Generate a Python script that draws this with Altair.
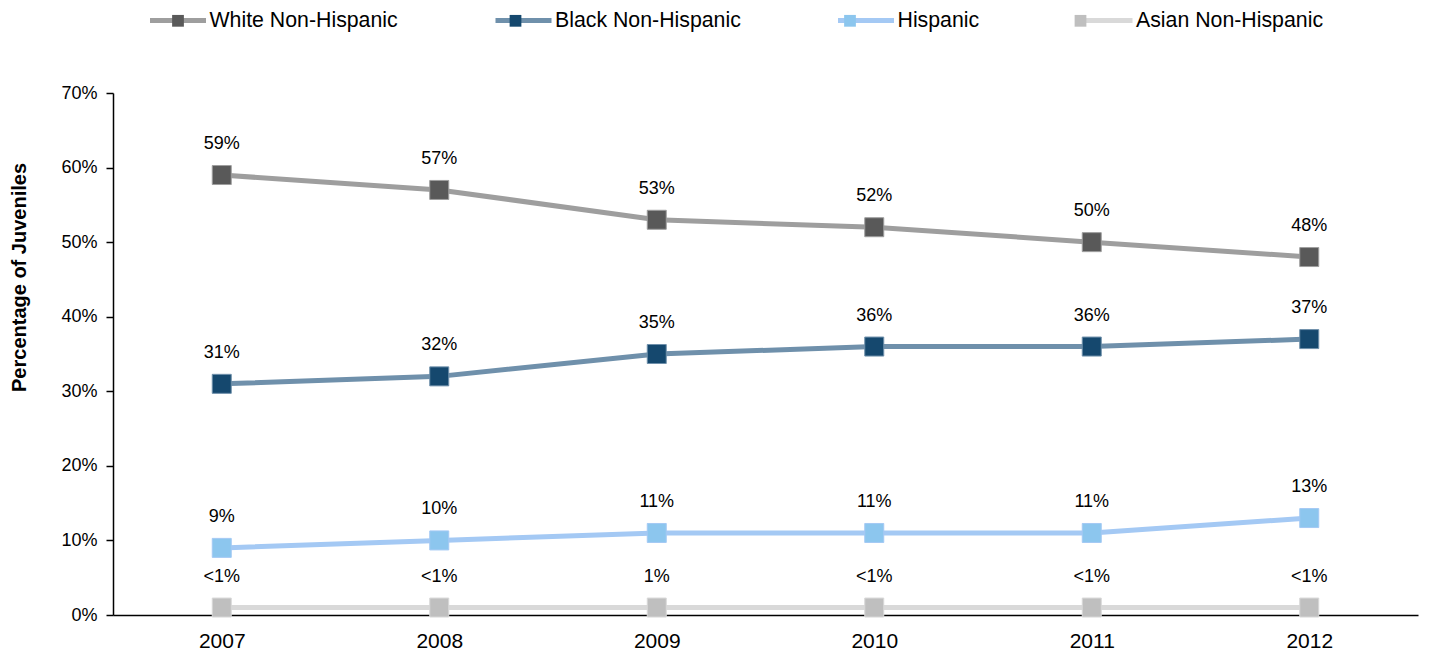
import altair as alt
import pandas as pd

years = ["2007", "2008", "2009", "2010", "2011", "2012"]
groups = ["White Non-Hispanic", "Black Non-Hispanic", "Hispanic", "Asian Non-Hispanic"]

white = [59, 57, 53, 52, 50, 48]
black = [31, 32, 35, 36, 36, 37]
hispanic = [9, 10, 11, 11, 11, 13]
asian = [1, 1, 1, 1, 1, 1]

white_labels = ["59%", "57%", "53%", "52%", "50%", "48%"]
black_labels = ["31%", "32%", "35%", "36%", "36%", "37%"]
hispanic_labels = ["9%", "10%", "11%", "11%", "11%", "13%"]
asian_labels = ["<1%", "<1%", "1%", "<1%", "<1%", "<1%"]

y_ticks = [0, 10, 20, 30, 40, 50, 60, 70]

line_colors = ["#9E9E9E", "#6F90AB", "#A4C9F4", "#D9D9D9"]
marker_colors = ["#595959", "#15486E", "#8CC6EE", "#BFBFBF"]

FONT = "Liberation Sans"

rows = []
for g, vals, labs in zip(groups, [white, black, hispanic, asian],
                         [white_labels, black_labels, hispanic_labels, asian_labels]):
    for yr, v, lab in zip(years, vals, labs):
        rows.append({"year": yr, "group": g, "group_f": g, "value": v, "label": lab})
df = pd.DataFrame(rows)

base = alt.Chart(df)

x_enc = alt.X(
    "year:O",
    scale=alt.Scale(type="point", padding=0.5),
    axis=alt.Axis(
        title=None, labelAngle=0, labelFontSize=21, labelFont=FONT, labelColor="black",
        labelPadding=15, tickSize=0, domainColor="black", domainWidth=1.5,
    ),
)
y_enc = alt.Y(
    "value:Q",
    scale=alt.Scale(domain=[0, 70], nice=False, zero=True),
    axis=alt.Axis(
        values=y_ticks, labelExpr="datum.value + '%'", grid=False,
        tickSize=7, tickColor="black", tickWidth=1.5,
        domainColor="black", domainWidth=1.5,
        labelFontSize=18, labelFont=FONT, labelColor="black", labelPadding=9,
        title="Percentage of Juveniles", titleFont=FONT, titleFontSize=20,
        titleFontWeight="bold", titleColor="black",
        titleX=-84, titleY=184, titleAngle=270, titleAlign="center", titleBaseline="bottom",
    ),
)

legend_common = dict(
    title=None, orient="none", legendX=34.5, legendY=-103, direction="horizontal",
    symbolSize=3136, symbolStrokeWidth=5, labelFontSize=21.3, labelFont=FONT,
    labelColor="black", labelLimit=600, labelOffset=1, columnPadding=86.5,
    padding=0, symbolOffset=0,
)

stroke_scale = alt.Scale(domain=groups, range=line_colors)

# line legend (bars in the line colour)
lines = base.mark_line(strokeWidth=5).encode(
    x=x_enc,
    y=y_enc,
    stroke=alt.Stroke(
        "group:N",
        scale=stroke_scale,
        legend=alt.Legend(symbolType="M-1,0H1", **legend_common),
    ),
)

# marker legend (squares in the marker colour), laid out identically on top
points = base.mark_point(shape="square", size=361, filled=True, opacity=1, strokeWidth=1).encode(
    x=x_enc,
    y=y_enc,
    stroke=alt.Stroke("group:N", scale=stroke_scale),
    fill=alt.Fill(
        "group_f:N",
        sort=groups,
        scale=alt.Scale(range=marker_colors),
        legend=alt.Legend(
            symbolType="M-0.21,-0.21H0.21V0.21H-0.21Z", symbolStrokeColor="transparent",
            labelOpacity=0, **legend_common
        ),
    ),
)

texts = base.mark_text(dy=-31, fontSize=18, font=FONT, color="black").encode(
    x=x_enc,
    y=y_enc,
    text=alt.Text("label:N"),
)

chart = (
    alt.layer(lines, points, texts)
    .properties(
        width=1305,
        height=522,
        autosize=alt.AutoSizeParams(type="none"),
        padding={"left": 105, "top": 85, "right": 3, "bottom": 36},
    )
    .configure_view(stroke="transparent")
)

chart.save("out.html", embed_options={"renderer": "svg", "actions": False})
